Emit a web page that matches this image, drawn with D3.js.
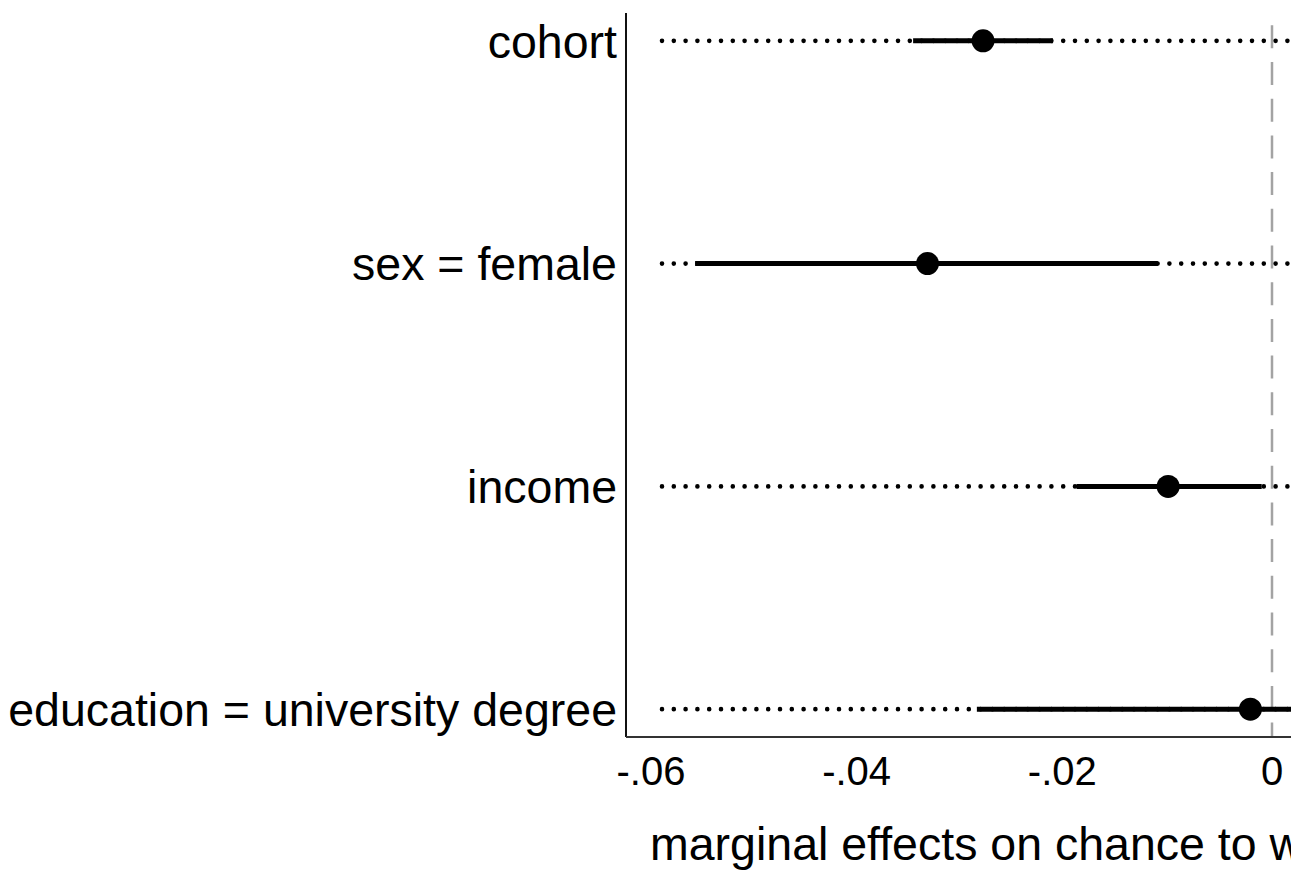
<!DOCTYPE html>
<html>
<head>
<meta charset="utf-8">
<script src="https://cdn.jsdelivr.net/npm/d3@7/dist/d3.min.js"></script>
<style>
  html, body { margin: 0; padding: 0; background: #fff; }
  svg { display: block; }
  text { font-family: "Liberation Sans", Arial, Helvetica, sans-serif; fill: #000; }
</style>
</head>
<body>
<svg id="chart" width="1291" height="871"></svg>
<script>
// ---- data ----
const categories = ["cohort", "sex = female", "income", "education = university degree"];
const estimates  = [-0.0281, -0.0335, -0.0101, -0.0021];
const ciLower    = [-0.0349, -0.0561, -0.0190, -0.0287];
const ciUpper    = [-0.0213, -0.0111, -0.0010, 0.0245];
const xTicks     = [-0.06, -0.04, -0.02, 0];
const xTickLabels = ["-.06", "-.04", "-.02", "0"];
const xDomain    = [-0.06, 0.03];
const axisTitle  = "marginal effects on chance to win";

// ---- layout ----
const svg = d3.select("#chart");
const W = 1291, H = 871;
const plotLeft = 626, plotTop = 13, plotBottom = 737;
const x0px = 655, xZeroPx = 1272;
const pxPerUnit = (xZeroPx - x0px) / 0.06;

const x = d3.scaleLinear()
  .domain(xDomain)
  .range([x0px, x0px + (xDomain[1] - xDomain[0]) * pxPerUnit]);

const y = d3.scalePoint()
  .domain(categories)
  .range([plotTop, plotBottom])
  .padding(0.125);

const rows = categories.map((c, i) => ({
  cat: c, est: estimates[i], lo: ciLower[i], hi: ciUpper[i]
}));

svg.append("defs").append("clipPath").attr("id", "clip")
  .append("rect").attr("x", plotLeft).attr("y", 0).attr("width", W - plotLeft).attr("height", plotBottom);

const g = svg.append("g").attr("clip-path", "url(#clip)");

// zero reference line (dashed gray)
g.append("line")
  .attr("x1", x(0)).attr("x2", x(0))
  .attr("y1", plotTop).attr("y2", plotBottom)
  .attr("stroke", "#a3a3a3")
  .attr("stroke-width", 2.5)
  .attr("stroke-dasharray", "23 13.7")
  .attr("stroke-dashoffset", 24.4);

// dotted guide lines
g.selectAll("line.guide").data(rows).join("line")
  .attr("class", "guide")
  .attr("x1", x(xDomain[0])).attr("x2", x(xDomain[1]))
  .attr("y1", d => y(d.cat)).attr("y2", d => y(d.cat))
  .attr("stroke", "#000")
  .attr("stroke-width", 4.6)
  .attr("stroke-linecap", "round")
  .attr("stroke-dasharray", "0 11.8")
  .attr("stroke-dashoffset", -7);

// confidence intervals
g.selectAll("line.ci").data(rows).join("line")
  .attr("class", "ci")
  .attr("x1", d => x(d.lo)).attr("x2", d => x(d.hi))
  .attr("y1", d => y(d.cat)).attr("y2", d => y(d.cat))
  .attr("stroke", "#000")
  .attr("stroke-width", 5);

// point estimates
g.selectAll("circle.pt").data(rows).join("circle")
  .attr("class", "pt")
  .attr("cx", d => x(d.est))
  .attr("cy", d => y(d.cat))
  .attr("r", 11.5)
  .attr("fill", "#000");

// axes lines
svg.append("line")
  .attr("x1", plotLeft).attr("x2", plotLeft)
  .attr("y1", plotTop).attr("y2", plotBottom)
  .attr("stroke", "#111").attr("stroke-width", 2);
svg.append("line")
  .attr("x1", plotLeft).attr("x2", W)
  .attr("y1", plotBottom).attr("y2", plotBottom)
  .attr("stroke", "#333").attr("stroke-width", 2);

// y labels
svg.selectAll("text.ylab").data(categories).join("text")
  .attr("class", "ylab")
  .attr("x", plotLeft - 9)
  .attr("y", d => y(d))
  .attr("dy", "0.36em")
  .attr("text-anchor", "end")
  .attr("font-size", 46.5)
  .text(d => d);

// x tick labels
svg.selectAll("text.xlab").data(xTicks).join("text")
  .attr("class", "xlab")
  .attr("x", (d, i) => x(d) - (d < 0 ? 4 : 0))
  .attr("y", plotBottom + 48)
  .attr("text-anchor", "middle")
  .attr("font-size", 40)
  .text((d, i) => xTickLabels[i]);

// axis title
svg.append("text")
  .attr("x", 650)
  .attr("y", 860)
  .attr("text-anchor", "start")
  .attr("font-size", 46.5)
  .text(axisTitle);
</script>
</body>
</html>
